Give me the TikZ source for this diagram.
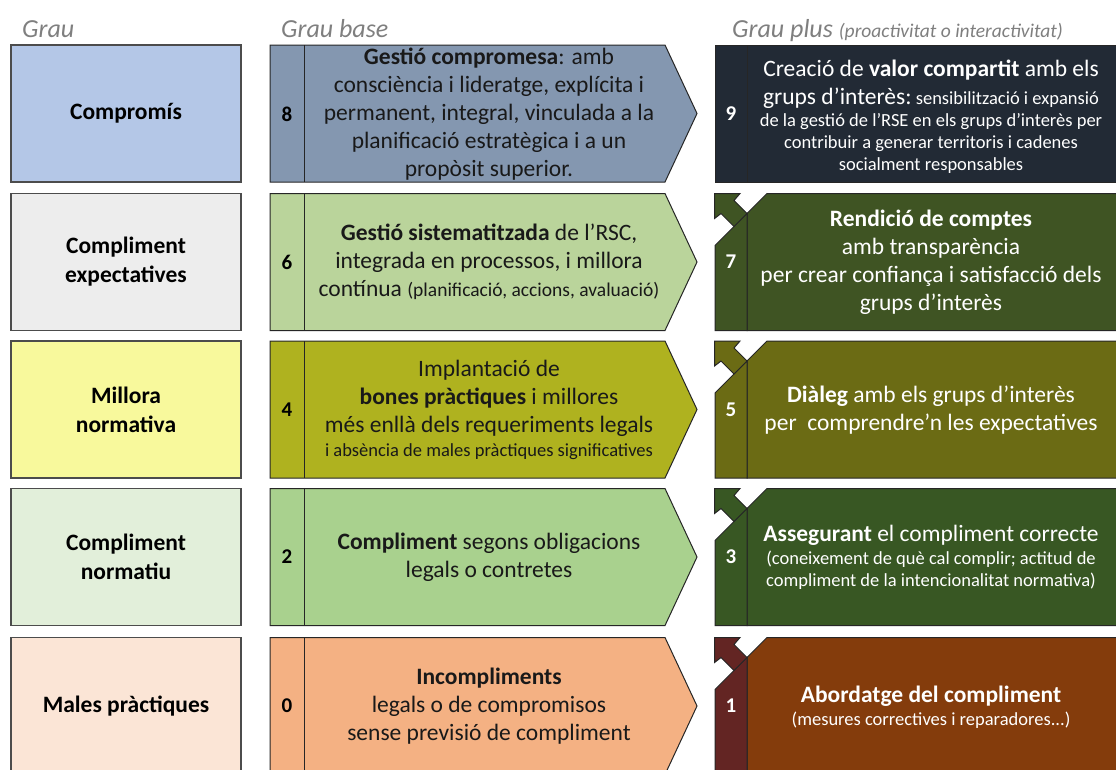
\documentclass[tikz,border=0pt]{standalone}
\usepackage{fontspec}
\setmainfont{Carlito}
\definecolor{Lone}{HTML}{B4C7E7}\definecolor{Mone}{HTML}{8497B0}\definecolor{Rone}{HTML}{222A35}
\definecolor{Ltwo}{HTML}{EDEDED}\definecolor{Mtwo}{HTML}{BAD49B}\definecolor{Rtwo}{HTML}{3F5423}
\definecolor{Lthree}{HTML}{F8F99C}\definecolor{Mthree}{HTML}{AFB21F}\definecolor{Rthree}{HTML}{6B6B14}
\definecolor{Lfour}{HTML}{E2EFDA}\definecolor{Mfour}{HTML}{A9D18E}\definecolor{Rfour}{HTML}{385723}
\definecolor{Lfive}{HTML}{FBE5D6}\definecolor{Mfive}{HTML}{F4B183}\definecolor{Rfive}{HTML}{843C0C}\definecolor{Sfive}{HTML}{632523}
\definecolor{hdrgray}{HTML}{7F7F7F}
\definecolor{frm}{HTML}{262626}
\newcommand\sm{\fontsize{18.5}{21}\selectfont}
\newcommand\drawrow[5]{%
 \begin{scope}[shift={(0,#1)}]
  \filldraw[lframe, fill=#2] (11,0) rectangle (241,137);
  \filldraw[frame, fill=#3] (270,0) -- (665,0) -- (697,68.5) -- (665,137) -- (270,137) -- cycle;
  \draw[frame] (304.3,0) -- (304.3,137);
  \filldraw[frame, fill=#4] (767,0) -- (1117,0) -- (1117,137) -- (747,137) -- (747,20) -- cycle;
  \filldraw[frame, fill=#5] (715,137) -- (715,52) -- (747,20) -- (747,137) -- cycle;
  \filldraw[frame, fill=#5] (714.5,0) -- (740,0) -- (734,7) -- (747,20) -- (734,33) -- (721,20) -- (714.5,25) -- cycle;
 \end{scope}}
\begin{document}
\begin{tikzpicture}[x=1pt,y=-1pt,
  frame/.style={draw=frm, line width=1pt},
  lframe/.style={draw=black!70, line width=1.1pt},
  lefttxt/.style={align=center, font=\bfseries\fontsize{23.5}{29}\selectfont, inner sep=0pt},
  midtxt/.style={align=center, text=black!90, font=\fontsize{23.5}{28}\selectfont, inner sep=0pt},
  righttxt/.style={align=center, text=white, font=\fontsize{23.5}{28}\selectfont, inner sep=0pt},
  numtxt/.style={font=\bfseries\fontsize{21}{24}\selectfont, inner sep=0pt},
  hdr/.style={anchor=base west, text=hdrgray, font=\itshape\fontsize{26}{30}\selectfont, inner sep=0pt}]
\useasboundingbox (0,0) rectangle (1116,769);
\clip (0,0) rectangle (1116,769);
\fill[white] (0,0) rectangle (1116,769);

% headers
\node[hdr] (h1) at (22,37) {Grau};
\node[hdr] (h2) at (281,37) {Grau base};
\node[hdr] (h3) at (732,37) {Grau plus {\fontsize{19.5}{22}\selectfont (proactivitat o interactivitat)}};

% row 1 (special right box)
\begin{scope}[shift={(0,45)}]
  \filldraw[lframe, fill=Lone] (11,0) rectangle (241,137);
  \filldraw[frame, fill=Mone] (270,0) -- (665,0) -- (697,68.5) -- (665,137) -- (270,137) -- cycle;
  \draw[frame] (304.3,0) -- (304.3,137);
  \filldraw[frame, fill=Rone] (715,0) rectangle (1117,137);
  \draw[frame] (747,0) -- (747,137);
\end{scope}
\drawrow{193.5}{Ltwo}{Mtwo}{Rtwo}{Rtwo}
\drawrow{341}{Lthree}{Mthree}{Rthree}{Rthree}
\drawrow{488.5}{Lfour}{Mfour}{Rfour}{Rfour}
\drawrow{637.5}{Lfive}{Mfive}{Rfive}{Sfive}

% left labels
\node[lefttxt] (l1) at (126,113.5) {Compromís};
\node[lefttxt] (l2) at (126,262) {Compliment\\expectatives};
\node[lefttxt] (l3) at (126,409.5) {Millora\\normativa};
\node[lefttxt] (l4) at (126,557) {Compliment\\normatiu};
\node[lefttxt] (l5) at (126,706) {Males pràctiques};

% numbers
\node[numtxt] (n8) at (287,114) {8};
\node[numtxt, text=white] (n9) at (731,114) {9};
\node[numtxt] (n6) at (287,262) {6};
\node[numtxt, text=white] (n7) at (731,262) {7};
\node[numtxt] (n4) at (287,409.5) {4};
\node[numtxt, text=white] (n5) at (731,409.5) {5};
\node[numtxt] (n2) at (287,557) {2};
\node[numtxt, text=white] (n3) at (731,557) {3};
\node[numtxt] (n0) at (287,706) {0};
\node[numtxt, text=white] (n1) at (731,706) {1};

% middle texts
\node[midtxt] (m8) at (489,114) {\textbf{Gestió compromesa}: amb\\consciència i lideratge, explícita i\\permanent, integral, vinculada a la\\planificació estratègica i a un\\propòsit superior.};
\node[midtxt] (m6) at (489,262) {\textbf{Gestió sistematitzada} de l’RSC,\\integrada en processos, i millora\\contínua {\fontsize{19.5}{22}\selectfont (planificació, accions, avaluació)}};
\node[midtxt] (m4) at (489,410) {Implantació de\\\textbf{bones pràctiques} i millores\\més enllà dels requeriments legals\\[-4pt]{\sm i absència de males pràctiques significatives}};
\node[midtxt] (m2) at (489,557) {\textbf{Compliment} segons obligacions\\legals o contretes};
\node[midtxt] (m0) at (489,706) {\textbf{Incompliments}\\legals o de compromisos\\sense previsió de compliment};

% right texts
\node[righttxt] (r9) at (931,117) {Creació de \textbf{valor compartit} amb els\\grups d’interès:{\sm\ sensibilització i expansió}\\[-6pt]{\sm de la gestió de l’RSE en els grups d’interès per}\\[-6pt]{\sm contribuir a generar territoris i cadenes}\\[-6pt]{\sm socialment responsables}};
\node[righttxt] (r7) at (931,262) {\textbf{Rendició de comptes}\\amb transparència\\per crear confiança i satisfacció dels\\grups d’interès};
\node[righttxt] (r5) at (931,410) {\textbf{Diàleg} amb els grups d’interès\\per\ \ comprendre’n les expectatives};
\node[righttxt] (r3) at (931,557) {\textbf{Assegurant} el compliment correcte\\[-5pt]{\sm (coneixement de què cal complir; actitud de}\\[-6pt]{\sm compliment de la intencionalitat normativa)}};
\node[righttxt] (r1) at (931,707) {\textbf{Abordatge del compliment}\\[-5pt]{\sm (mesures correctives i reparadores...)}};
\end{tikzpicture}
\end{document}
